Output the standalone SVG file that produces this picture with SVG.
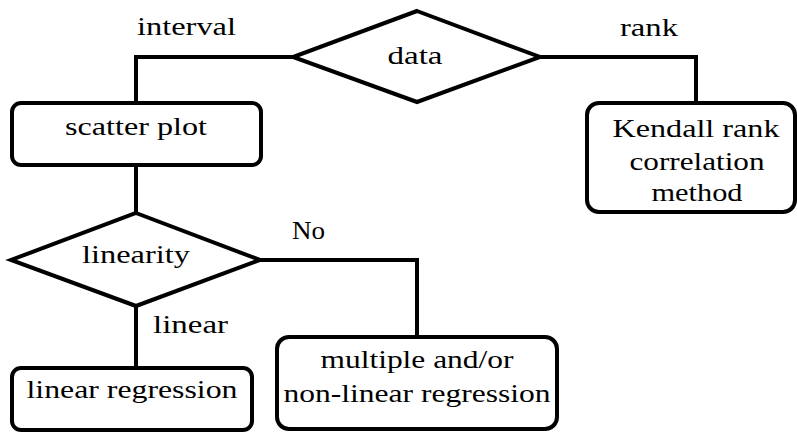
<svg xmlns="http://www.w3.org/2000/svg" width="797" height="433" viewBox="0 0 797 433">
  <style>
    .shape { fill: #ffffff; stroke: #000000; stroke-width: 4; stroke-linejoin: miter; }
    .box { fill: #ffffff; stroke: #000000; stroke-width: 4; }
    .wire { fill: none; stroke: #000000; stroke-width: 4; }
    .t { font-size: 25px; fill: #000000; text-anchor: middle; }
    .lbl { text-anchor: start; }
  </style>
  <rect width="797" height="433" fill="#ffffff"/>

  <g font-family="'Liberation Serif', 'Times New Roman', 'DejaVu Serif', Times, serif">
  <!-- connectors -->
  <g id="connectors">
    <polyline class="wire" points="293,57 136,57 136,103"/>
    <polyline class="wire" points="540,57 696,57 696,103"/>
    <line class="wire" x1="136" y1="165" x2="136" y2="213"/>
    <line class="wire" x1="136" y1="306" x2="136" y2="368"/>
    <polyline class="wire" points="260,260 417,260 417,337"/>
    <text class="t lbl" x="137" y="35" textLength="99" lengthAdjust="spacingAndGlyphs">interval</text>
    <text class="t lbl" x="620" y="36" textLength="58" lengthAdjust="spacingAndGlyphs">rank</text>
    <text class="t lbl" x="292" y="239" textLength="33" lengthAdjust="spacingAndGlyphs">No</text>
    <text class="t lbl" x="153" y="333" textLength="75" lengthAdjust="spacingAndGlyphs">linear</text>
  </g>

  <!-- decision: data -->
  <g id="data">
    <polygon class="shape" points="417,11 540,57 417,102 293,57"/>
    <text class="t" x="415" y="64" textLength="55" lengthAdjust="spacingAndGlyphs">data</text>
  </g>

  <!-- step: scatter plot -->
  <g id="scatter-plot">
    <rect class="box" x="12" y="103" width="249" height="62" rx="9"/>
    <text class="t" x="136" y="135" textLength="142" lengthAdjust="spacingAndGlyphs">scatter plot</text>
  </g>

  <!-- step: Kendall rank correlation -->
  <g id="kendall">
    <rect class="box" x="587" y="103" width="208" height="109" rx="12"/>
    <text class="t" x="696" y="137" textLength="167" lengthAdjust="spacingAndGlyphs">Kendall rank</text>
    <text class="t" x="697" y="170" textLength="135" lengthAdjust="spacingAndGlyphs">correlation</text>
    <text class="t" x="697" y="201" textLength="91" lengthAdjust="spacingAndGlyphs">method</text>
  </g>

  <!-- decision: linearity -->
  <g id="linearity">
    <polygon class="shape" points="136,213 260,260 136,306 11,260"/>
    <text class="t" x="136" y="263" textLength="108" lengthAdjust="spacingAndGlyphs">linearity</text>
  </g>

  <!-- step: linear regression -->
  <g id="linear-regression">
    <rect class="box" x="12" y="368" width="240" height="62" rx="9"/>
    <text class="t" x="132" y="398" textLength="211" lengthAdjust="spacingAndGlyphs">linear regression</text>
  </g>

  <!-- step: multiple / non-linear regression -->
  <g id="nonlinear-regression">
    <rect class="box" x="277" y="337" width="280" height="92" rx="12"/>
    <text class="t" x="417" y="368" textLength="193" lengthAdjust="spacingAndGlyphs">multiple and/or</text>
    <text class="t" x="417" y="402" textLength="267" lengthAdjust="spacingAndGlyphs">non-linear regression</text>
  </g>
  </g>
</svg>
